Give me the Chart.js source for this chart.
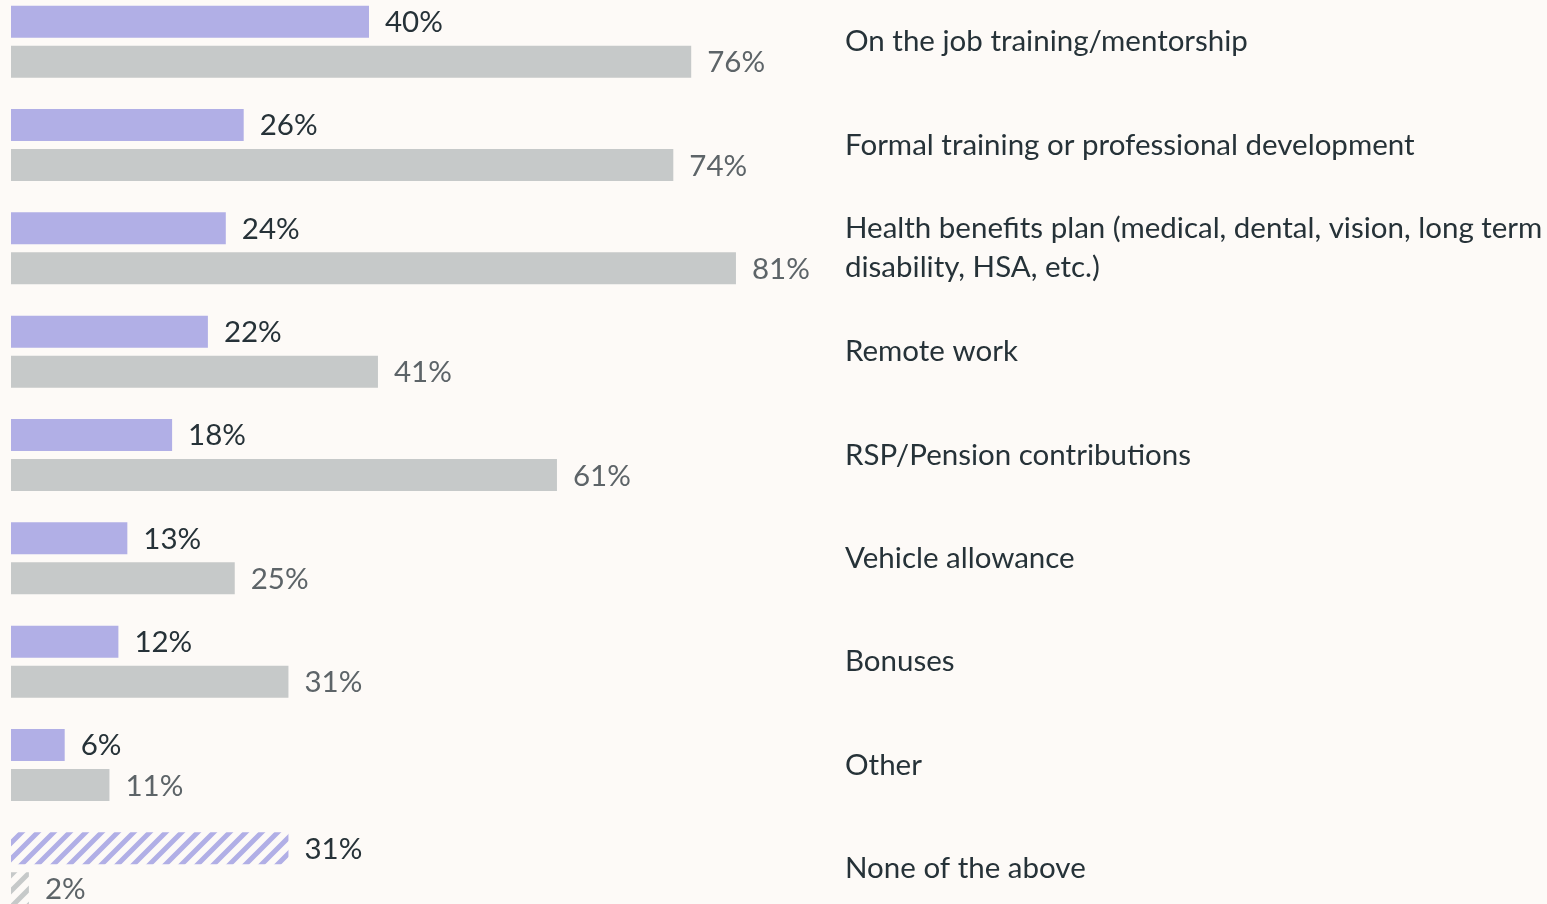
<!DOCTYPE html>
<html>
<head>
<meta charset="utf-8">
<script src="https://cdn.jsdelivr.net/npm/chart.js@4"></script>
<style>
  html, body { margin: 0; padding: 0; background: #fdfaf7; overflow: hidden; }
  #wrap { position: absolute; left: 0; top: -10px; width: 1547px; height: 930px; }
</style>
</head>
<body>
<div id="wrap"><canvas id="benefitsChart" width="1547" height="930"></canvas></div>
<script>
// categories (right-hand labels)
const categories = [
    'On the job training/mentorship',
    'Formal training or professional development',
    ['Health benefits plan (medical, dental, vision, long term', 'disability, HSA, etc.)'],
    'Remote work',
    'RSP/Pension contributions',
    'Vehicle allowance',
    'Bonuses',
    'Other',
    'None of the above'
];
// series values (%)
const purpleValues = [40, 26, 24, 22, 18, 13, 12, 6, 31];
const grayValues = [76, 74, 81, 41, 61, 25, 31, 11, 2];

const PURPLE = '#b1afe6';
const GRAY = '#c6c9c9';
const BG = '#fdfaf7';
const FONT = 'Lato, "Open Sans", sans-serif';
const FONT_SIZE = 29.5;

// diagonal stripes for the "none of the above" row
function makeStripes(color) {
    const s = 16;
    const c = document.createElement('canvas');
    c.width = s;
    c.height = s;
    const g = c.getContext('2d');
    g.fillStyle = BG;
    g.fillRect(0, 0, s, s);
    g.strokeStyle = color;
    g.lineWidth = 5;
    g.beginPath();
    g.moveTo(-s / 2, s / 2); g.lineTo(s / 2, -s / 2);
    g.moveTo(0, s); g.lineTo(s, 0);
    g.moveTo(s / 2, s * 1.5); g.lineTo(s * 1.5, s / 2);
    g.stroke();
    return g.createPattern(c, 'repeat');
}

const purpleFill = purpleValues.map((v, i) => i === purpleValues.length - 1 ? makeStripes(PURPLE) : PURPLE);
const grayFill = grayValues.map((v, i) => i === grayValues.length - 1 ? makeStripes(GRAY) : GRAY);

// value labels at bar ends
const valueLabels = {
    id: 'valueLabels',
    afterDatasetsDraw(chart) {
        const ctx = chart.ctx;
        ctx.save();
        ctx.font = FONT_SIZE + 'px ' + FONT;
        ctx.textAlign = 'left';
        ctx.textBaseline = 'middle';
        chart.data.datasets.forEach((ds, di) => {
            ctx.fillStyle = di === 0 ? '#263238' : '#5d6468';
            chart.getDatasetMeta(di).data.forEach((bar, i) => {
                ctx.fillText(ds.data[i] + '%', bar.x + 16, bar.y + 1);
            });
        });
        ctx.restore();
    }
};

const ctx = document.getElementById('benefitsChart').getContext('2d');
new Chart(ctx, {
    type: 'bar',
    data: {
        labels: categories,
        datasets: [
            {
                label: 'Purple',
                data: purpleValues,
                backgroundColor: purpleFill,
                barPercentage: 0.8,
                categoryPercentage: 0.775
            },
            {
                label: 'Gray',
                data: grayValues,
                backgroundColor: grayFill,
                barPercentage: 0.8,
                categoryPercentage: 0.775
            }
        ]
    },
    options: {
        indexAxis: 'y',
        responsive: false,
        animation: false,
        layout: { padding: { left: 11, right: 0, top: 0, bottom: 0 } },
        plugins: {
            legend: { display: false },
            tooltip: { enabled: false }
        },
        scales: {
            x: {
                display: false,
                min: 0,
                max: 90
            },
            y: {
                position: 'right',
                grid: { display: false, drawTicks: false },
                border: { display: false },
                ticks: {
                    color: '#263238',
                    padding: 28.5,
                    font: { family: FONT, size: FONT_SIZE, lineHeight: 1.32 }
                },
                afterFit(scale) {
                    scale.width = 1547 - 11 - 805.5;
                    scale.paddingTop = 0;
                    scale.paddingBottom = 0;
                }
            }
        }
    },
    plugins: [valueLabels]
});
</script>
</body>
</html>
